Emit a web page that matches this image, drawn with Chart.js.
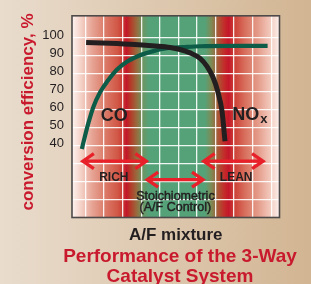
<!DOCTYPE html>
<html>
<head>
<meta charset="utf-8">
<script src="https://cdn.jsdelivr.net/npm/chart.js@4.4.1/dist/chart.umd.min.js"></script>
<style>
  html, body { margin: 0; padding: 0; background: #dcc7b0; }
  canvas { display: block; }
</style>
</head>
<body>
<canvas id="chart" width="311" height="284"></canvas>
<script>
// --- Data ---
const coX  = [-0.19, -0.02, 0.16, 0.43, 0.79, 1.17, 1.69, 2.23, 2.94, 3.66, 4.38, 5.27, 6.17, 7.96, 9.8];
const coY  = [38.1, 45.3, 52.4, 61.4, 69.5, 75.5, 82.0, 86.5, 90.1, 92.4, 94.0, 94.6, 95.1, 95.3, 95.3];
const noxX = [0.04, 1.33, 2.67, 3.75, 4.55, 5.09, 5.63, 6.17, 6.54, 6.87, 7.13, 7.35, 7.51];
const noxY = [97.2, 96.7, 96.0, 95.2, 94.4, 93.3, 91.4, 88.4, 83.9, 77.7, 69.6, 58.9, 42.4];

const yTickLabels = [40, 50, 60, 70, 80, 90, 100];
const yTitle = 'conversion efficiency, %';
const xTitle = 'A/F mixture';
const titleLines = ['Performance of the 3-Way', 'Catalyst System'];

// ranges marked with double arrows: [from, to, level]
const arrowRanges = [[-0.19, 3.33, 31.3], [3.27, 6.38, 21.0], [6.31, 9.61, 31.3]];

// --- Styles ---
const FONT = '"Liberation Sans", Arial, Helvetica, sans-serif';
const RED = '#c8192d';
const INK = '#231f20';

// background bands across the plot (fraction of plot width, colour)
const bandStops = [
  [0.00, '#fdf4f0'], [0.04, '#f5d4ca'], [0.10, '#e6a292'], [0.16, '#db7a68'],
  [0.22, '#d15746'], [0.245, '#c93b33'], [0.262, '#c3162a'], [0.28, '#b73627'],
  [0.31, '#9a683c'], [0.34, '#6e9560'], [0.37, '#55a279'], [0.64, '#55a279'],
  [0.67, '#7b8c56'], [0.705, '#ab5634'], [0.735, '#c42a2a'], [0.755, '#c3162a'],
  [0.78, '#cc3e34'], [0.835, '#d8705e'], [0.895, '#e49a88'], [0.955, '#f2c9bd'],
  [1.00, '#fdf1ed']
];

function arrow(ctx, x1, x2, y) {
  const h = 12, w = 7.5;
  ctx.beginPath();
  ctx.moveTo(x1 + 1, y); ctx.lineTo(x2 - 1, y);
  ctx.moveTo(x1 + h, y - w); ctx.lineTo(x1 + 1, y); ctx.lineTo(x1 + h, y + w);
  ctx.moveTo(x2 - h, y - w); ctx.lineTo(x2 - 1, y); ctx.lineTo(x2 - h, y + w);
  ctx.stroke();
}

const decor = {
  id: 'decor',
  beforeDraw(c) {
    const { ctx, chartArea: a, width, height } = c;
    ctx.save();
    let g = ctx.createLinearGradient(0, 0, width, 0);
    g.addColorStop(0, '#e9dccd');
    g.addColorStop(1, '#d2b592');
    ctx.fillStyle = g;
    ctx.fillRect(0, 0, width, height);
    g = ctx.createLinearGradient(a.left, 0, a.right, 0);
    bandStops.forEach(([f, col]) => g.addColorStop(f, col));
    ctx.fillStyle = g;
    ctx.fillRect(a.left, a.top, a.width, a.height);
    ctx.restore();
  },
  afterDraw(c) {
    const { ctx, chartArea: a } = c;
    const xs = c.scales.x, ys = c.scales.y;
    const px = v => xs.getPixelForValue(v), py = v => ys.getPixelForValue(v);
    ctx.save();

    // plot frame
    ctx.strokeStyle = '#4e4a4a';
    ctx.lineWidth = 1.6;
    ctx.strokeRect(a.left, a.top, a.width, a.height);

    // range arrows
    ctx.strokeStyle = '#e8202a';
    ctx.lineWidth = 3.3;
    ctx.lineJoin = 'miter';
    arrowRanges.forEach(([f, t, lvl]) => arrow(ctx, px(f), px(t), py(lvl)));

    // curve names
    ctx.fillStyle = INK;
    ctx.textBaseline = 'alphabetic';
    ctx.textAlign = 'left';
    ctx.font = 'bold 18px ' + FONT;
    ctx.fillText('CO', px(0.83), py(53.8));
    ctx.fillText('NO', px(7.9), py(53.9));
    const noW = ctx.measureText('NO').width;
    ctx.font = 'bold 13px ' + FONT;
    ctx.fillText('x', px(7.9) + noW + 1, py(52.3));

    // region names
    ctx.textAlign = 'center';
    ctx.font = 'bold 12px ' + FONT;
    ctx.fillText('RICH', px(1.53), py(20.2));
    ctx.fillText('LEAN', px(8.11), py(20.2));
    ctx.font = '12.5px ' + FONT;
    ctx.strokeStyle = INK;
    ctx.lineWidth = 0.45;
    [['Stoichiometric', 9.8], ['(A/F Control)', 3.5]].forEach(([t, lvl]) => {
      ctx.fillText(t, px(4.84), py(lvl));
      ctx.strokeText(t, px(4.84), py(lvl));
    });

    // axis titles
    ctx.font = 'bold 17px ' + FONT;
    ctx.fillText(xTitle, px(4.86), 240);
    ctx.fillStyle = RED;
    ctx.save();
    ctx.translate(33, 112);
    ctx.rotate(-Math.PI / 2);
    ctx.fillText(yTitle, 0, 0);
    ctx.restore();

    // caption
    ctx.font = 'bold 19px ' + FONT;
    ctx.fillText(titleLines[0], 180, 262);
    ctx.fillText(titleLines[1], 180, 282);
    ctx.restore();
  }
};

new Chart(document.getElementById('chart'), {
  type: 'line',
  data: {
    datasets: [
      {
        label: 'CO',
        data: coX.map((x, i) => ({ x, y: coY[i] })),
        borderColor: '#0d5c48',
        borderWidth: 4.2,
        borderCapStyle: 'butt',
        cubicInterpolationMode: 'monotone',
        pointRadius: 0,
        order: 1,
      },
      {
        label: 'NOx',
        data: noxX.map((x, i) => ({ x, y: noxY[i] })),
        borderColor: '#231f20',
        borderWidth: 5,
        borderCapStyle: 'butt',
        cubicInterpolationMode: 'monotone',
        pointRadius: 0,
        order: 0,
      },
    ],
  },
  options: {
    responsive: false,
    animation: false,
    devicePixelRatio: 1,
    layout: { padding: { left: 0, right: 31.5, top: 9, bottom: 66.5 } },
    plugins: { legend: { display: false }, tooltip: { enabled: false } },
    scales: {
      x: {
        type: 'linear',
        min: -0.72,
        max: 10.44,
        afterFit: s => { s.height = 0; },
        border: { display: false },
        ticks: { display: false, stepSize: 1, includeBounds: false },
        grid: { drawTicks: false, color: 'rgba(255,255,255,0.9)', lineWidth: 1.3 },
      },
      y: {
        min: 0,
        max: 112,
        afterFit: s => { s.width = 72; },
        border: { display: false },
        ticks: {
          stepSize: 10,
          includeBounds: false,
          padding: 8,
          labelOffset: -2,
          color: INK,
          font: { family: FONT, size: 13 },
          callback: v => yTickLabels.includes(v) ? String(v) : '',
        },
        grid: {
          drawTicks: false,
          lineWidth: 1.3,
          color: ctx => (ctx.tick && ctx.tick.value > 0 && ctx.tick.value <= 100)
            ? 'rgba(255,255,255,0.9)' : 'rgba(0,0,0,0)',
        },
      },
    },
  },
  plugins: [decor],
});
</script>
</body>
</html>
